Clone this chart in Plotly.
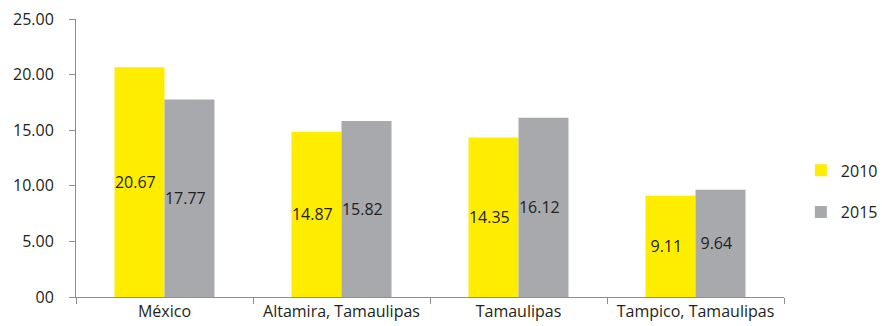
import plotly.graph_objects as go

categories = ["México", "Altamira, Tamaulipas", "Tamaulipas", "Tampico, Tamaulipas"]
years = ["2010", "2015"]
values_2010 = [20.67, 14.87, 14.35, 9.11]
values_2015 = [17.77, 15.82, 16.12, 9.64]
tick_vals = [0, 5, 10, 15, 20, 25]
tick_text = ["00", "5.00", "10.00", "15.00", "20.00", "25.00"]

colors = {"2010": "#FFED00", "2015": "#A7A9AC"}
FONT = "Open Sans"

fig = go.Figure()
for yr, vals in zip(years, [values_2010, values_2015]):
    fig.add_trace(go.Bar(
        name=yr, x=categories, y=vals, legendgroup=yr,
        marker=dict(color=colors[yr], line=dict(width=0)),
        text=[f"{v:.2f}  " for v in vals],
        textposition="inside", insidetextanchor="middle",
        textangle=0, constraintext="none",
        textfont=dict(family=FONT, size=16, color="#231F20"),
        cliponaxis=False,
    ))

fig.update_layout(
    width=882, height=326,
    margin=dict(l=76, r=98, t=19, b=29, autoexpand=False),
    paper_bgcolor="white", plot_bgcolor="white",
    barmode="group", bargap=0.435, bargroupgap=0,
    font=dict(family=FONT, size=16, color="#231F20"),
    showlegend=True,
    legend=dict(x=0.908, y=0.413, xref="container", yref="container",
                xanchor="left", yanchor="middle", traceorder="grouped",
                font=dict(family=FONT, size=16, color="#231F20"),
                itemwidth=30, tracegroupgap=18, bgcolor="rgba(0,0,0,0)"),
)
fig.update_xaxes(
    showline=True, linecolor="#8E8E8E", linewidth=1, automargin=False,
    ticks="outside", tickson="boundaries", ticklen=6, tickcolor="#8E8E8E",
    showgrid=False, tickfont=dict(family=FONT, size=16, color="#231F20"),
)
fig.update_yaxes(
    range=[0, 25], tickvals=tick_vals, ticktext=tick_text, automargin=False,
    showline=True, linecolor="#8E8E8E", linewidth=1,
    ticks="outside", ticklen=6, tickcolor="#8E8E8E",
    ticklabelstandoff=12,
    showgrid=False, zeroline=False,
    tickfont=dict(family=FONT, size=16, color="#231F20"),
)

fig.write_html("out.html")
